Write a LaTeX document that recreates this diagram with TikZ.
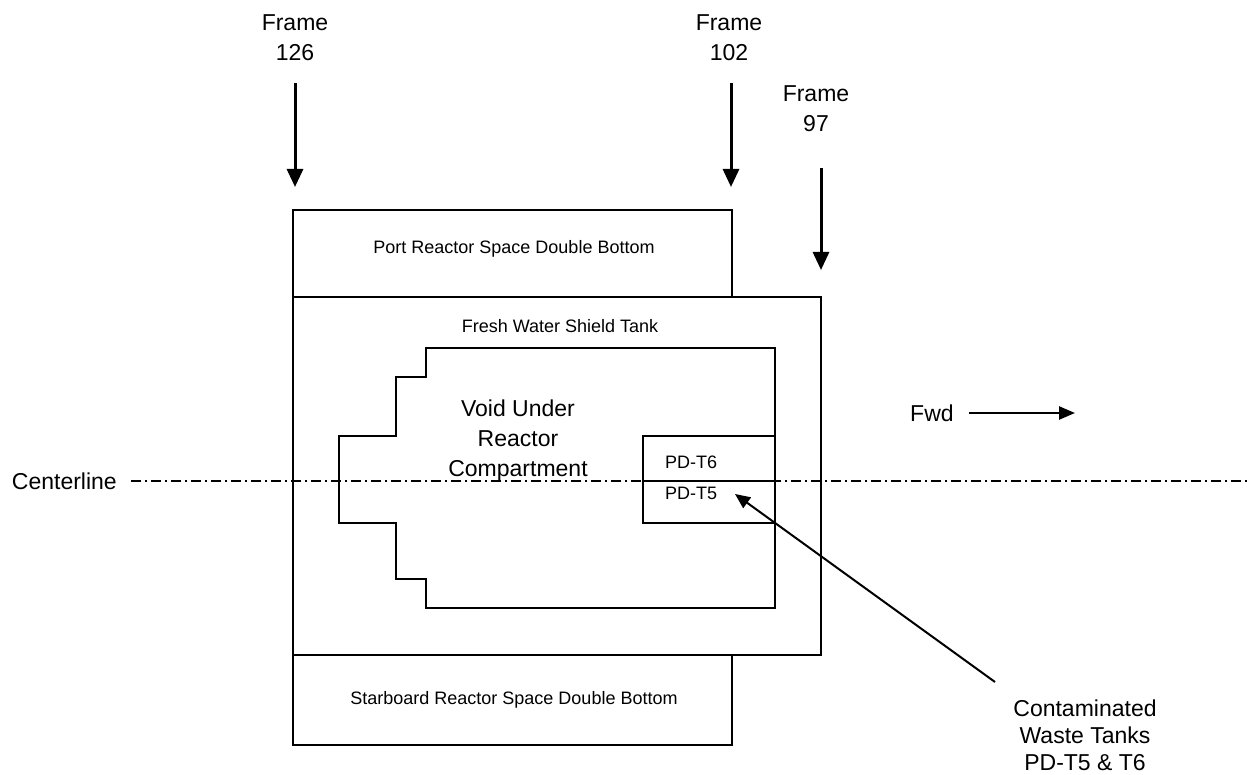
\documentclass[tikz,border=0pt]{standalone}
\usepackage{fontspec}
\setmainfont{Liberation Sans}
\usetikzlibrary{arrows.meta,positioning}

\begin{document}
\begin{tikzpicture}[x=1pt, y=-1pt,
    tank/.style={draw, line width=1.7pt, minimum width=#1, inner sep=0pt},
    biglabel/.style={font=\fontsize{23}{30}\selectfont, align=center, inner sep=0pt},
    smalllabel/.style={font=\fontsize{18}{22}\selectfont, inner sep=0pt},
    framearrow/.style={-{Triangle[width=16pt,length=18pt]}, line width=3pt},
    pointer/.style={-{Triangle[width=13pt,length=15pt]}, line width=2pt},
    centerdash/.style={line width=1.5pt, dash pattern=on 10pt off 4pt on 2pt off 4pt}
]
    \useasboundingbox (0,0) rectangle (1247,775);

    % Tanks
    \node[tank=439pt, minimum height=87pt] (port) at (512.5,253.5) {};
    \node[tank=528pt, minimum height=358pt] (fresh) at (557,476) {};
    \node[tank=439pt, minimum height=90pt] (stbd) at (512.5,700) {};
    \node[smalllabel] (portlbl) at (514,249) {Port Reactor Space Double Bottom};
    \node[smalllabel] (freshlbl) at (560,326) {Fresh Water Shield Tank};
    \node[smalllabel] (stbdlbl) at (514,700) {Starboard Reactor Space Double Bottom};

    % Void under reactor compartment (stepped outline)
    \draw[line width=1.7pt] (426,348) -- (775,348) -- (775,608) -- (426,608)
        -- (426,579) -- (396,579) -- (396,523) -- (339,523) -- (339,436)
        -- (396,436) -- (396,377) -- (426,377) -- cycle;
    \node[biglabel] (void) at (518,441) {Void Under\\Reactor\\Compartment};

    % Centerline
    \node[biglabel, anchor=east] (cl) at (117,481) {Centerline};
    \coordinate (clend) at (1247,481);
    \draw[centerdash] ([xshift=14pt]cl.east) -- (clend);

    % PD tanks
    \node[tank=132pt, minimum height=87pt] (pd) at (709,479.5) {};
    \draw[line width=1.7pt] (pd.west |- 0,481) -- (pd.east |- 0,481);
    \node[smalllabel, anchor=west] (pdt6) at (665,462) {PD-T6};
    \node[smalllabel, anchor=west] (pdt5) at (665,493) {PD-T5};

    % Frame markers
    \node[biglabel] (f126) at (295,38) {Frame\\126};
    \node[biglabel] (f102) at (729,38) {Frame\\102};
    \node[biglabel] (f97) at (816,109) {Frame\\97};
    \coordinate (f126top) at (295,83);
    \coordinate (f126tip) at (295,187);
    \coordinate (f102top) at (731,83);
    \coordinate (f102tip) at (731,187);
    \coordinate (f97top) at (821,168);
    \coordinate (f97tip) at (821,270);
    \draw[framearrow] (f126top) -- (f126tip);
    \draw[framearrow] (f102top) -- (f102tip);
    \draw[framearrow] (f97top) -- (f97tip);

    % Forward direction
    \node[biglabel, anchor=west] (fwd) at (910,413) {Fwd};
    \coordinate (fwdtip) at (1075,413);
    \draw[-{Triangle[width=13pt,length=16pt]}, line width=2.5pt] ([xshift=15pt]fwd.east) -- (fwdtip);

    % Callout
    \node[biglabel, font=\fontsize{23}{27}\selectfont] (waste) at (1085,735) {Contaminated\\Waste Tanks\\PD-T5 \& T6};
    \coordinate (wastetail) at (995,682);
    \coordinate (wastetip) at (735,494);
    \draw[pointer] (wastetail) -- (wastetip);
\end{tikzpicture}
\end{document}
